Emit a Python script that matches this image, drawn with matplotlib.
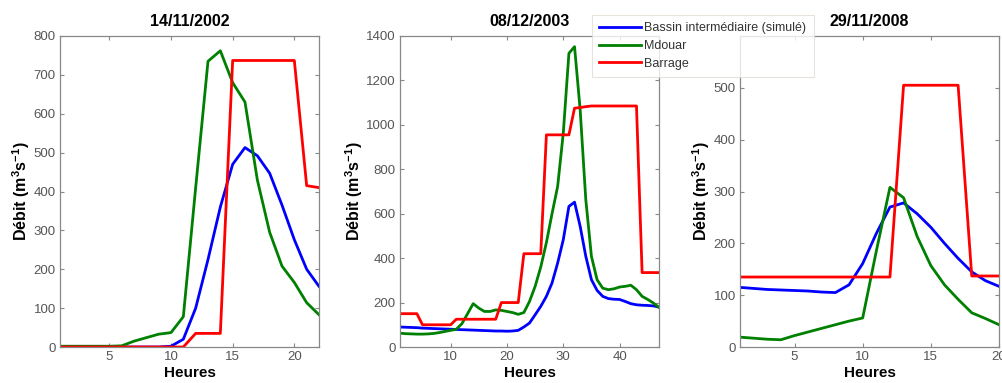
import matplotlib
matplotlib.use("Agg")
import matplotlib.pyplot as plt
from matplotlib.lines import Line2D

plt.rcParams['font.family'] = ['Liberation Sans', 'DejaVu Sans']
plt.rcParams['mathtext.fontset'] = 'custom'
plt.rcParams['mathtext.rm'] = 'Liberation Sans:bold'
plt.rcParams['mathtext.it'] = 'Liberation Sans:bold'
plt.rcParams['mathtext.bf'] = 'Liberation Sans:bold'

# ---- Data ----
titles = ["14/11/2002", "08/12/2003", "29/11/2008"]
series_names = ["Bassin intermédiaire (simulé)", "Mdouar", "Barrage"]

# Event 1 : 14/11/2002 (hours 1..22)
h1 = list(range(1, 23))
bassin1 = [0, 0, 0, 0, 0, 0, 0, 0, 0, 2, 20, 100, 225, 360, 470, 513, 492, 447, 365, 276, 200, 156]
mdouar1 = [2, 2, 2, 2, 2, 3, 15, 24, 33, 37, 78, 410, 735, 762, 680, 630, 430, 295, 208, 166, 114, 83]
barrage1 = [0, 0, 0, 0, 0, 0, 0, 0, 0, 0, 0, 35, 35, 35, 737, 737, 737, 737, 737, 737, 415, 410]

# Event 2 : 08/12/2003 (hours 1..47)
h2 = list(range(1, 48))
bassin2 = [90, 89, 88, 87, 85, 84, 83, 82, 81, 80, 79, 78, 77, 76, 75, 74, 73, 72, 72, 71, 72, 75, 90,
           108, 145, 183, 228, 288, 378, 483, 633, 652, 543, 408, 303, 255, 228, 218, 215, 214, 205,
           195, 190, 188, 187, 185, 180]
mdouar2 = [62, 60, 59, 58, 58, 59, 61, 65, 70, 75, 80, 105, 150, 195, 175, 160, 160, 167, 165, 160,
           155, 147, 155, 205, 273, 360, 470, 600, 723, 963, 1322, 1352, 1067, 663, 408, 303, 265,
           258, 262, 270, 273, 278, 258, 228, 214, 198, 178]
barrage2 = [150, 150, 150, 150, 100, 100, 100, 100, 100, 100, 125, 125, 125, 125, 125, 125, 125, 125,
            200, 200, 200, 200, 420, 420, 420, 420, 955, 955, 955, 955, 955, 1075, 1078, 1082, 1085,
            1085, 1085, 1085, 1085, 1085, 1085, 1085, 1085, 335, 335, 335, 335]

# Event 3 : 29/11/2008 (hours 1..20)
h3 = list(range(1, 21))
bassin3 = [115, 113, 111, 110, 109, 108, 106, 105, 120, 161, 219, 270, 278, 257, 231, 200, 171, 145, 128, 117]
mdouar3 = [19, 17, 15, 14, 22, 29, 36, 43, 50, 56, 185, 308, 288, 213, 157, 120, 92, 66, 55, 43]
barrage3 = [135, 135, 135, 135, 135, 135, 135, 135, 135, 135, 135, 135, 505, 505, 505, 505, 505, 137, 137, 137]

hours = [h1, h2, h3]
bassin = [bassin1, bassin2, bassin3]
mdouar = [mdouar1, mdouar2, mdouar3]
barrage = [barrage1, barrage2, barrage3]
ylims = [(0, 800), (0, 1400), (0, 600)]
yticks = [list(range(0, 801, 100)), list(range(0, 1401, 200)), list(range(0, 501, 100))]
xticks = [[5, 10, 15, 20], [10, 20, 30, 40], [5, 10, 15, 20]]

colors = ["#0000ff", "#008000", "#ff0000"]
spine_col = "#888888"
tick_col = "#555555"

W, H = 1003, 383
fig = plt.figure(figsize=(W / 100, H / 100), dpi=100)
fig.patch.set_facecolor("white")

lefts = [60, 400, 740]
axw = 259
top_px, bot_px = 36, 347

for i in range(3):
    ax = fig.add_axes([lefts[i] / W, 1 - bot_px / H, axw / W, (bot_px - top_px) / H])
    x = hours[i]
    ax.plot(x, bassin[i], color=colors[0], lw=2.0)
    ax.plot(x, mdouar[i], color=colors[1], lw=2.0)
    ax.plot(x, barrage[i], color=colors[2], lw=2.0)
    ax.set_xlim(x[0], x[-1])
    ax.set_ylim(*ylims[i])
    ax.set_yticks(yticks[i])
    ax.set_xticks(xticks[i])
    ax.tick_params(direction="in", top=True, right=True, length=3, width=0.8,
                   colors=spine_col, labelcolor=tick_col, labelsize=9.5, pad=3)
    for s in ax.spines.values():
        s.set_color(spine_col)
        s.set_linewidth(0.9)
    ax.set_title(titles[i], fontsize=11.5, fontweight="bold", pad=7)
    ax.set_xlabel("Heures", fontsize=11, fontweight="bold", labelpad=2)
    ax.set_ylabel("Débit (m$^{3}$s$^{-1}$)", fontsize=11.5, fontweight="bold", labelpad=1)

handles = [Line2D([0], [0], color=c, lw=2.0) for c in colors]
leg = fig.legend(handles, series_names, loc="upper left",
                 bbox_to_anchor=(592 / W, 1 - 15 / H), fontsize=9,
                 frameon=True, fancybox=False, handlelength=3.3, handletextpad=0.3,
                 labelspacing=0.45, borderpad=0.6, borderaxespad=0)
leg.get_frame().set_edgecolor("#e2dcd4")
leg.get_frame().set_linewidth(0.8)
for t in leg.get_texts():
    t.set_color("#333333")

fig.savefig("out.png", dpi=100)
